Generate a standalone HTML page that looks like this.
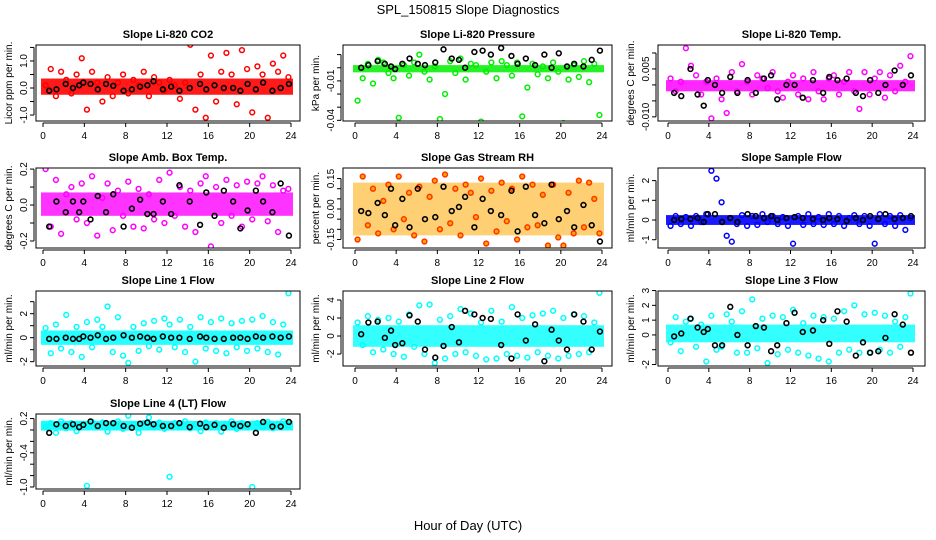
<!DOCTYPE html>
<html><head><meta charset="utf-8">
<style>
html,body{margin:0;padding:0;background:#fff;}
svg{display:block;font-family:"Liberation Sans",sans-serif;}
</style></head>
<body>
<svg id="chart" width="936" height="540" viewBox="0 0 936 540" xmlns="http://www.w3.org/2000/svg">
<text x="468" y="14" text-anchor="middle" font-size="13">SPL_150815  Slope Diagnostics</text>
<text x="468" y="530" text-anchor="middle" font-size="13">Hour of Day (UTC)</text>
</svg>
<script>
const xTicks = [0,4,8,12,16,20,24];
const colHours = [0.25,0.75,1.25,1.75,2.25,2.75,3.25,3.75,4.25,4.75,5.25,5.75,6.25,6.75,7.25,7.75,8.25,8.75,9.25,9.75,10.25,10.75,11.25,11.75,12.25,12.75,13.25,13.75,14.25,14.75,15.25,15.75,16.25,16.75,17.25,17.75,18.25,18.75,19.25,19.75,20.25,20.75,21.25,21.75,22.25,22.75,23.25,23.75];
const blkHours = [0.6,1.3,2.2,2.9,3.5,3.9,4.6,5.3,6.1,6.8,7.8,8.6,9.4,10.1,10.7,11.6,12.4,13.2,14.2,15.2,15.8,16.6,17.5,18.4,19.1,19.8,20.6,21.3,22.2,23.0,23.8];

const co2Vals = [0.1,0.7,-0.3,0.6,0.3,-0.2,0.5,1.1,-0.8,0.6,0.2,-0.5,0.4,-0.3,0.2,0.5,-0.2,0.3,0.1,0.6,-0.3,0.4,0.2,-0.1,0.3,0.1,-0.4,0.2,1.6,-0.8,0.5,-1.1,1.2,-0.5,0.6,1.3,0.5,-0.6,1.4,0.7,-0.9,0.8,0.5,-1.1,0.9,0.6,1.2,0.4];
const co2Blk = [-0.1,-0.05,0.15,0,0.1,0.2,0.15,-0.05,0.15,0.08,-0.1,-0.05,0.05,0.1,0.25,-0.05,0.05,-0.1,0,0.15,-0.05,0.1,0,0,-0.1,0.15,-0.05,0.2,-0.1,0,0.15];
const presVals = [-0.025,-0.008,0.003,-0.012,0.006,0.004,-0.004,-0.008,-0.038,0.002,-0.006,0.004,0.01,-0.003,-0.009,0.001,-0.039,-0.02,0.005,-0.004,0.007,-0.009,0.003,0.002,-0.041,-0.003,0.004,-0.008,0.005,0.002,-0.006,0.004,-0.037,-0.015,0.003,-0.005,0.001,-0.008,0.004,-0.003,-0.042,-0.009,0.002,-0.007,0.005,-0.011,0.003,-0.036];
const presBlk = [0,0.002,0.005,0.003,0.001,-0.001,0.003,0.007,0.003,0.002,0.004,0.014,0.007,0.006,0,0.012,0.013,0.01,0.015,0.009,0.003,0.007,0.002,0.01,0,0.011,0.001,0.003,0.001,0.006,0.013];
const tempVals = [0.002,-0.002,0.001,0.0115,0.006,0.003,-0.003,0.001,-0.0105,0.002,-0.0045,-0.0088,0.004,-0.002,0.0065,0.001,-0.003,0.003,0.002,-0.001,0.004,-0.002,-0.004,0.001,0.003,-0.003,0.002,-0.0045,0.004,-0.002,-0.0045,0.002,0.003,-0.003,0.001,0.004,-0.002,-0.0075,0.004,-0.003,0.002,0.004,-0.004,0.003,-0.002,0.006,0.001,0.009];
const tempBlk = [-0.0025,-0.0035,0.005,-0.003,-0.0065,0.0015,0,-0.0025,0.0025,-0.0025,0.0015,-0.0025,0.002,0.003,-0.0045,0,0,-0.004,0.0015,-0.0025,0.0025,0.0015,0.002,-0.0025,-0.0035,0.0015,-0.0025,0,0.0045,0,0.003];
const ambVals = [0.2,-0.12,0.14,-0.16,0.06,0.1,-0.08,0.12,-0.1,0.16,-0.17,0.04,0.12,-0.14,0.08,-0.06,0.13,-0.12,0.09,-0.13,0.06,-0.08,0.14,-0.1,0.18,-0.06,0.1,-0.12,0.08,-0.15,0.12,0.16,-0.23,0.1,-0.1,0.14,-0.06,0.11,-0.12,0.13,-0.08,0.12,0.16,-0.09,0.11,-0.15,0.08,0.09];
const ambBlk = [-0.12,0.02,-0.04,0.02,-0.04,0.02,-0.08,0.05,-0.04,0.06,-0.12,-0.02,0.03,-0.05,-0.05,0.02,-0.05,0.11,0.02,-0.11,0.07,-0.06,0.08,0.02,-0.13,-0.03,0.08,0.02,-0.04,0.12,-0.17];
const rhVals = [-0.15,0.16,-0.08,0.1,-0.12,0.04,0.12,-0.1,0.16,-0.05,0.08,-0.13,0.11,-0.16,0.06,0.14,-0.1,0.17,-0.07,0.1,-0.13,0.12,0.08,-0.04,0.15,-0.17,0.09,-0.11,0.13,-0.06,0.1,-0.15,0.16,-0.09,0.12,-0.08,0.07,-0.18,0.12,-0.14,-0.18,0.08,-0.12,0.14,-0.09,0.13,0.05,-0.12];
const rhBlk = [-0.01,-0.02,0.03,-0.03,0.1,-0.08,0.05,-0.09,0.1,-0.05,-0.04,0.11,-0.01,0.01,0.06,-0.09,0.05,-0.01,-0.03,0.09,-0.11,0.11,-0.03,-0.07,0.12,-0.05,-0.01,-0.09,0.02,-0.08,-0.16];
const sampVals = [-0.3,0.2,-0.2,0.15,-0.3,0.2,-0.1,0.3,2.5,2.1,0.9,-0.8,-1.1,-0.2,0.25,-0.3,0.2,-0.25,0.3,-0.1,0.2,-0.2,0.15,-0.3,-1.2,0.2,-0.25,0.3,-0.2,0.15,-0.25,0.3,-0.2,0.2,-0.3,0.1,0.25,-0.2,0.2,-0.3,-1.2,0.3,-0.2,0.2,-0.3,0.25,-0.5,0.1];
const sampBlk = [0,0.05,0.05,0.1,-0.1,0.3,0.3,-0.1,0.1,-0.1,0.3,0.2,0.1,0.2,0,0.1,0.15,0.1,0.05,0,0.1,0.05,-0.05,0.1,0,0.2,0.05,0.3,0.05,0.1,0.2];
const l1Vals = [0.8,-1.3,1.1,-0.9,1.9,-1.2,0.9,-1.6,1.3,-0.8,1.5,0.9,2.6,-1.2,1.7,-1.5,-2.1,0.9,-1.1,1.2,-0.7,1.4,-1.0,1.6,1.1,-0.8,1.5,-1.2,0.9,-2.0,1.7,-0.9,1.3,-1.1,1.6,-1.3,1.2,-0.8,1.4,-1.1,1.5,-0.9,1.8,-1.2,1.3,-1.4,1.1,3.7];
const l1Blk = [-0.1,-0.1,0,-0.1,-0.1,0.1,0,0.2,-0.1,0,0.2,0,0.1,0,-0.1,0.1,0,0,-0.1,0.1,0,-0.1,-0.1,0,0,-0.1,0.1,0,0.1,0,0.1];
const l2Vals = [1.5,-1,2.2,-1.8,1.8,-1.5,2,-2,1.6,-2.3,2.4,-1.2,3.4,-2,3.5,-3,1.8,-2.5,2.2,-2,3,-1.8,2.5,-2.2,1.5,-2.6,2.8,-2.5,1.6,-2,3.2,-2.2,2,-2.4,2.3,-1.8,2.5,-2.2,2.8,-2.5,2,-2.2,2.4,-2,2.2,-1.8,1.5,4.8];
const l2Blk = [0.2,1.5,1.6,-0.2,0.6,-1,-0.8,2.3,1.6,-1.5,-2.4,-1.1,1.0,-0.7,2.8,2.4,2.0,1.9,-1,-2.5,2.4,-0.5,1.3,-2.8,0.7,-0.5,-1.5,2.4,1.6,-1.5,0.5];
const l3Vals = [-0.5,1.2,-1.1,0.9,1.1,-0.8,0.7,-1.8,1.3,-1.0,-0.8,1.4,0.9,-1.2,1.6,-1.2,2.4,-0.9,1.1,-1.9,1.3,-1.3,1.2,-1.0,1.7,-1.2,0.8,-1.4,1.3,-1.6,1.2,-1.8,1.1,-1.2,1.6,-1.0,2.0,-1.2,1.4,-1.2,1.5,-1.0,1.3,-1.2,0.9,-0.8,1.2,2.8];
const l3Blk = [-0.1,0.1,1.1,0.5,0.2,0.4,-0.7,-0.7,1.9,0,-0.7,0.6,0.5,-1.1,-0.7,0.8,1.5,0.2,0.3,1.0,-0.6,1.6,0.9,-1.4,-0.5,-1.2,-1.1,-0.2,1.4,0.7,-1.2];
const l4Vals = [0.05,0.12,-0.05,0.15,0.03,0.12,-0.02,0.1,-0.98,0.14,0.05,0.13,-0.03,0.1,0.15,0.02,0.25,0.1,-0.05,0.12,0.22,0.05,0.13,0.02,-0.82,0.12,0.05,0.15,0.03,0.1,-0.02,0.13,0.05,0.12,-0.03,0.1,0.15,0.02,0.12,0.05,-1.0,0.12,0.05,0.14,0.03,0.1,0.15,0.08];
const l4Blk = [-0.05,0.1,0.07,0.1,0.05,0.09,0.15,0.07,0.12,0.12,0.07,0.04,0.11,0.13,0.1,0.07,0.07,0.12,0.05,0.11,0.05,0.09,0.04,0.1,0.07,0.1,-0.05,0.14,0.06,0.06,0.14];

const cols = [{l:36,r:300,x0:43,x24:291},{l:343,r:612,x0:355,x24:602},{l:658,r:925,x0:668,x24:913}];
const rows = [{t:45,b:121},{t:168,b:248},{t:291,b:366},{t:414,b:489}];

const panels = [
 {name:'co2',title:'Slope Li-820 CO2',ylab:'Licor ppm per min.',c:0,r:0,ymax:1.59,ymin:-1.22,ticks:[-1,-0.5,0,0.5,1,1.5],labs:[[-1,'-1.0'],[0,'0.0'],[1,'1.0']],col:'#ff0000',fill:'none',band:[-0.25,0.35],op:0.9,vals:co2Vals,blk:co2Blk},
 {name:'pressure',title:'Slope Li-820 Pressure',ylab:'kPa per min.',c:1,r:0,ymax:0.0173,ymin:-0.0405,ticks:[-0.04,-0.03,-0.02,-0.01,0,0.01],labs:[[-0.04,'-0.04'],[-0.01,'-0.01']],col:'#00ee00',fill:'none',band:[-0.0035,0.002],op:0.85,vals:presVals,blk:presBlk},
 {name:'temp',title:'Slope Li-820 Temp.',ylab:'degrees C per min.',c:2,r:0,ymax:0.0125,ymin:-0.0113,ticks:[-0.01,-0.005,0,0.005,0.01],labs:[[-0.01,'-0.010'],[0.005,'0.005']],col:'#ff00ff',fill:'none',band:[-0.002,0.0015],op:0.85,vals:tempVals,blk:tempBlk},
 {name:'amb-box-temp',title:'Slope Amb. Box Temp.',ylab:'degrees C per min.',c:0,r:1,ymax:0.206,ymin:-0.239,ticks:[-0.2,-0.1,0,0.1,0.2],labs:[[-0.2,'-0.2'],[0,'0.0'],[0.2,'0.2']],col:'#ff00ff',fill:'none',band:[-0.06,0.07],op:0.8,vals:ambVals,blk:ambBlk},
 {name:'gas-stream-rh',title:'Slope Gas Stream RH',ylab:'percent per min.',c:1,r:1,ymax:0.202,ymin:-0.192,ticks:[-0.15,-0.1,-0.05,0,0.05,0.1,0.15],labs:[[-0.15,'-0.15'],[0,'0.00'],[0.15,'0.15']],col:'#ff3300',fill:'#ffaa00',band:[-0.13,0.13],op:0.55,vals:rhVals,blk:rhBlk},
 {name:'sample-flow',title:'Slope Sample Flow',ylab:'ml/min per min.',c:2,r:1,ymax:2.64,ymin:-1.42,ticks:[-1,0,1,2],labs:[[-1,'-1'],[0,'0'],[1,'1'],[2,'2']],col:'#0000ff',fill:'none',band:[-0.25,0.25],op:0.9,vals:sampVals,blk:sampBlk},
 {name:'line1-flow',title:'Slope Line 1 Flow',ylab:'ml/min per min.',c:0,r:2,ymax:3.89,ymin:-2.36,ticks:[-2,-1,0,1,2,3],labs:[[-2,'-2'],[0,'0'],[2,'2']],col:'#00ffff',fill:'none',band:[-0.6,0.6],op:0.85,vals:l1Vals,blk:l1Blk},
 {name:'line2-flow',title:'Slope Line 2 Flow',ylab:'ml/min per min.',c:1,r:2,ymax:5.0,ymin:-3.33,ticks:[-2,0,2,4],labs:[[-2,'-2'],[0,'0'],[2,'2'],[4,'4']],col:'#00ffff',fill:'none',band:[-1.2,1.2],op:0.8,vals:l2Vals,blk:l2Blk},
 {name:'line3-flow',title:'Slope Line 3 Flow',ylab:'ml/min per min.',c:2,r:2,ymax:2.97,ymin:-2.1,ticks:[-2,-1,0,1,2,3],labs:[[-2,'-2'],[0,'0'],[1,'1'],[2,'2'],[3,'3']],col:'#00ffff',fill:'none',band:[-0.5,0.7],op:0.8,vals:l3Vals,blk:l3Blk},
 {name:'line4-flow',title:'Slope Line 4 (LT) Flow',ylab:'ml/min per min.',c:0,r:3,ymax:0.28,ymin:-1.035,ticks:[-1,-0.8,-0.6,-0.4,-0.2,0,0.2],labs:[[-1,'-1.0'],[-0.4,'-0.4'],[0.2,'0.2']],col:'#00ffff',fill:'none',band:[-0.01,0.16],op:0.9,vals:l4Vals,blk:l4Blk}
];

const NS='http://www.w3.org/2000/svg';
const svg=document.getElementById('chart');
function mk(tag,attrs,parent){const e=document.createElementNS(NS,tag);for(const k in attrs)e.setAttribute(k,attrs[k]);(parent||svg).appendChild(e);return e;}

panels.forEach(p=>{
  const C=cols[p.c],R=rows[p.r];
  const xs=h=>C.x0+(h/24)*(C.x24-C.x0);
  const ys=v=>R.t+(p.ymax-v)/(p.ymax-p.ymin)*(R.b-R.t);
  const g=mk('g',{});
  
  
  const clipId='clip-'+p.name;
  const cp=mk('clipPath',{id:clipId},g);
  mk('rect',{x:C.l,y:R.t,width:C.r-C.l,height:R.b-R.t},cp);
  const t=mk('text',{x:(C.l+C.r)/2,y:R.t-7,'text-anchor':'middle','font-size':'11','font-weight':'bold'},g);
  t.textContent=p.title;
  
  
  const mg=mk('g',{'clip-path':'url(#'+clipId+')'},g);
  
  
  const band=mk('rect',{x:xs(0)-2,y:ys(p.band[1]),width:xs(24)-xs(0)+4,height:ys(p.band[0])-ys(p.band[1]),fill:p.fill!=='none'?p.fill:p.col,opacity:p.op},mg);
  
  
  p.vals.forEach((v,i)=>{
    const c=mk('circle',{cx:xs(colHours[i]),cy:ys(v),r:2.4,fill:p.fill==='none'?'none':p.fill,stroke:p.col,'stroke-width':1.5},mg);
    
    
  });
  p.blk.forEach((v,i)=>{
    const c=mk('circle',{cx:xs(blkHours[i]),cy:ys(v),r:2.4,fill:'none',stroke:'#000','stroke-width':1.6},mg);
    
    
  });
  const box=mk('rect',{x:C.l,y:R.t,width:C.r-C.l,height:R.b-R.t,fill:'none',stroke:'#000','stroke-width':1},g);
  
  
  const xa=mk('g',{},g);
  
  
  mk('line',{x1:xs(0),x2:xs(24),y1:R.b+2,y2:R.b+2,stroke:'#000'},xa);
  xTicks.forEach(h=>{
    mk('line',{x1:xs(h),x2:xs(h),y1:R.b+2,y2:R.b+6,stroke:'#000'},xa);
    const tl=mk('text',{x:xs(h),y:R.b+18,'text-anchor':'middle','font-size':'10'},xa);
    tl.textContent=h;
  });
  const ya=mk('g',{},g);
  
  
  const ax=C.l-2;
  mk('line',{x1:ax,x2:ax,y1:ys(p.ticks[0]),y2:ys(p.ticks[p.ticks.length-1]),stroke:'#000'},ya);
  p.ticks.forEach(v=>mk('line',{x1:ax-4,x2:ax,y1:ys(v),y2:ys(v),stroke:'#000'},ya));
  p.labs.forEach(([v,s])=>{
    const tl=mk('text',{x:ax-7,y:ys(v),'text-anchor':'middle','font-size':'10',transform:'rotate(-90 '+(ax-7)+' '+ys(v)+')'},ya);
    tl.textContent=s;
  });
  const yl=mk('text',{x:ax-22,y:(R.t+R.b)/2,'text-anchor':'middle','font-size':'10',transform:'rotate(-90 '+(ax-22)+' '+((R.t+R.b)/2)+')'},ya);
  yl.textContent=p.ylab;
  
  
});
</script>
</body></html>
